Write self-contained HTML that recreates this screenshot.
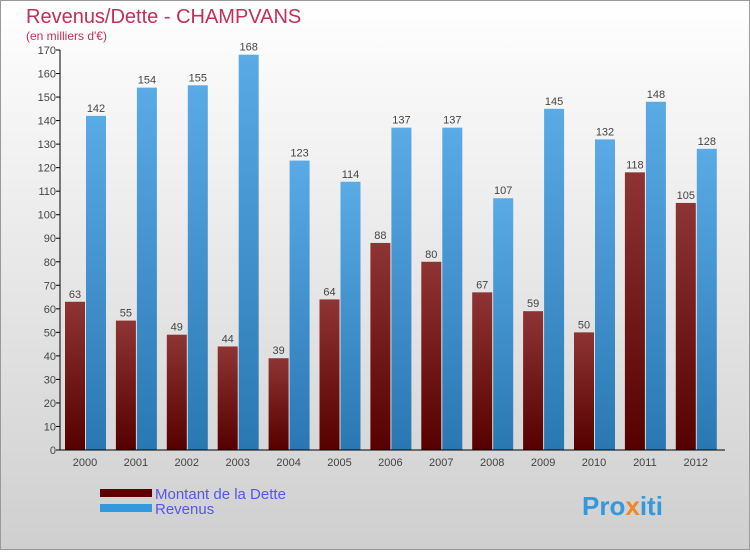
<!DOCTYPE html>
<html><head><meta charset="utf-8"><style>
body{margin:0;width:750px;height:550px;overflow:hidden;font-family:"Liberation Sans",sans-serif}
</style></head><body>
<svg width="750" height="550" xmlns="http://www.w3.org/2000/svg">
<defs>
<linearGradient id="bg" x1="0" y1="0" x2="0" y2="1"><stop offset="0" stop-color="#ffffff"/><stop offset="1" stop-color="#cfcfcf"/></linearGradient>
<linearGradient id="gd" x1="0" y1="0" x2="0" y2="1"><stop offset="0" stop-color="#8e3434"/><stop offset="1" stop-color="#560000"/></linearGradient>
<linearGradient id="gb" x1="0" y1="0" x2="0" y2="1"><stop offset="0" stop-color="#5aaae6"/><stop offset="1" stop-color="#2a78b2"/></linearGradient>
</defs>
<rect x="0.5" y="0.5" width="749" height="549" fill="url(#bg)" stroke="#999"/>
<text x="26" y="23" font-size="20" fill="#c0305a">Revenus/Dette - CHAMPVANS</text>
<text x="26" y="40" font-size="12" fill="#c0305a">(en milliers d'€)</text>
<g id="plot"></g>
<g>
<rect x="100" y="489" width="52" height="8" fill="#5e0000"/>
<text x="155" y="499" font-size="15" fill="#5555ee">Montant de la Dette</text>
<rect x="100" y="504" width="52" height="8" fill="#3399dd"/>
<text x="155" y="514" font-size="15" fill="#5555ee">Revenus</text>
</g>
<text x="582" y="515" font-size="26" font-weight="bold" fill="#3399dd">Pro<tspan fill="#ee8822">x</tspan>iti</text>
</svg>
<script>
const years=["2000","2001","2002","2003","2004","2005","2006","2007","2008","2009","2010","2011","2012"];
const dette=[63,55,49,44,39,64,88,80,67,59,50,118,105];
const revenus=[142,154,155,168,123,114,137,137,107,145,132,148,128];
const yTicks=[0,10,20,30,40,50,60,70,80,90,100,110,120,130,140,150,160,170];
const NS="http://www.w3.org/2000/svg";
const g=document.getElementById('plot');
const y0=450,y1=50,vmax=170,x0=60,step=50.9,first=65,bw=20;
const Y=v=>y0-(v/vmax)*(y0-y1);
function mk(t,a,txt){const e=document.createElementNS(NS,t);for(const k in a)e.setAttribute(k,a[k]);if(txt!=null)e.textContent=txt;g.appendChild(e);return e;}
yTicks.forEach(v=>{
 const l=mk('line',{x1:x0-4,x2:x0,y1:Y(v),y2:Y(v),stroke:'#000'});
 
 
 const t=mk('text',{x:x0-4,y:Y(v)+4,'font-size':11,fill:'#444','text-anchor':'end'},v);
 
 
});
years.forEach((yr,i)=>{
 const x=first+i*step;
 const a=mk('rect',{x:x,y:Y(dette[i]),width:bw,height:y0-Y(dette[i]),fill:'url(#gd)'});
 
 
 const b=mk('rect',{x:x+bw+1,y:Y(revenus[i]),width:bw,height:y0-Y(revenus[i]),fill:'url(#gb)'});
 
 
 const ta=mk('text',{x:x+bw/2,y:Y(dette[i])-4,'font-size':11,fill:'#444','text-anchor':'middle'},dette[i]);
 
 
 const tb=mk('text',{x:x+bw*1.5+1,y:Y(revenus[i])-4,'font-size':11,fill:'#444','text-anchor':'middle'},revenus[i]);
 
 
 const tx=mk('text',{x:x+bw,y:466,'font-size':11,fill:'#444','text-anchor':'middle'},yr);
 
 
});
const ax=mk('line',{x1:x0,x2:x0,y1:y1,y2:y0,stroke:'#000'});


const bx=mk('line',{x1:x0,x2:725,y1:y0,y2:y0,stroke:'#000'});


</script>
</body></html>
